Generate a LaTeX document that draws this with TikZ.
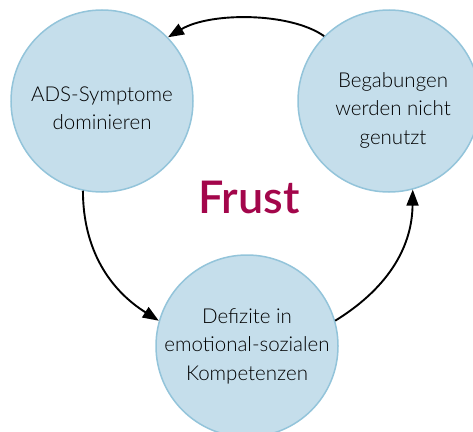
\documentclass[tikz,border=0pt]{standalone}
\usepackage{fontspec}
\setmainfont{Lato}
\newfontfamily\lightfont{Lato Light}
\newfontfamily\semifont{Lato Semibold}
\usetikzlibrary{arrows.meta}
\definecolor{cfill}{HTML}{C5DEEB}
\definecolor{cline}{HTML}{93C4DA}
\definecolor{frust}{HTML}{A3064B}
\begin{document}
\begin{tikzpicture}[x=1pt,y=-1pt,
  bubble/.style={circle,minimum size=182pt,inner sep=0pt,fill=cfill,draw=cline,line width=1.5pt},
  txt/.style={align=center,font=\lightfont\fontsize{20.5}{28.5}\selectfont,text=black,inner sep=0pt},
  conn/.style={line width=1.9pt,-{Triangle[length=16pt,width=12pt]}}]
\useasboundingbox (0,0) rectangle (473,431);
\node[bubble] (l) at (102,101) {};
\node[bubble] (r) at (389,101) {};
\node[bubble] (b) at (247,346) {};
\node[txt] (lt) at (102,108) {ADS-Symptome\\dominieren};
\node[txt] (rt) at (393,110) {Begabungen\\werden nicht\\genutzt};
\node[txt] (bt) at (247,346) {Defizite in\\emotional-sozialen\\Kompetenzen};
\node[font=\semifont\fontsize{45}{50}\selectfont,text=frust,inner sep=0pt] (f) at (249,197) {Frust};
\draw[conn] (r.135) .. controls (290,12) and (210,12) .. (l.44);
\draw[conn] (l.258) .. controls (83,250) and (110,290) .. (b.164);
\draw[conn] (b.16) .. controls (385,290) and (412,250) .. (r.285);
\end{tikzpicture}
\end{document}
